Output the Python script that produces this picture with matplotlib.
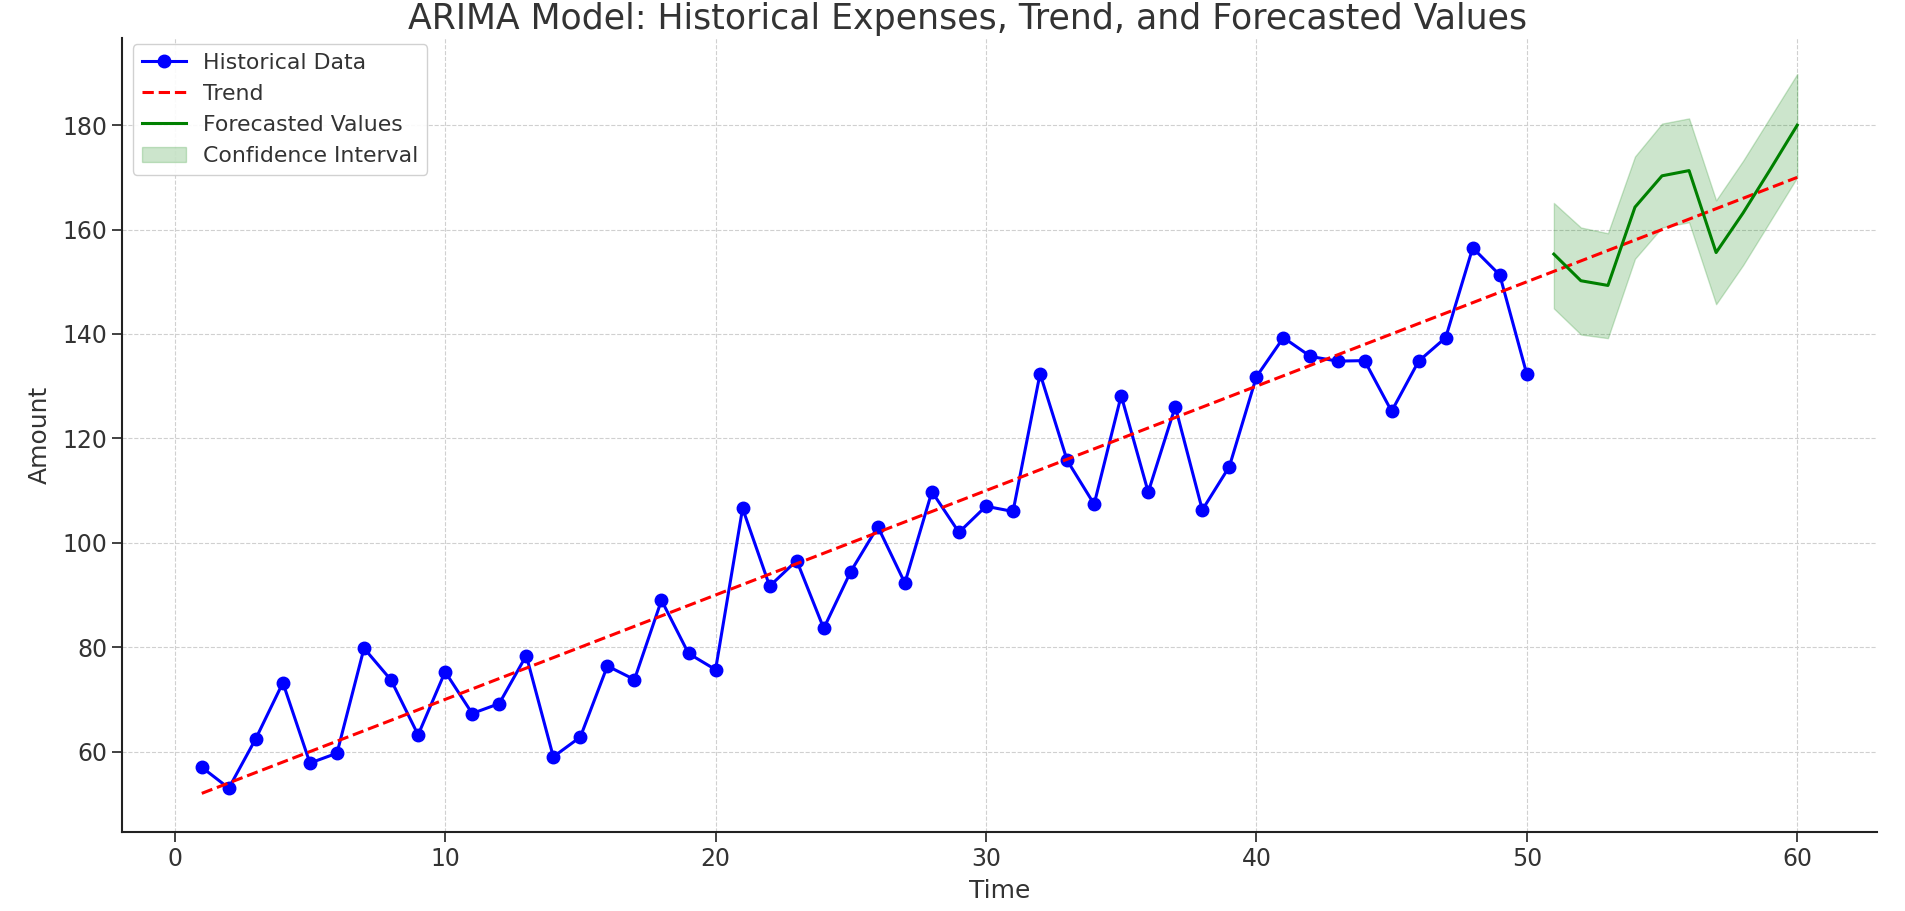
import matplotlib.pyplot as plt

# Historical expenses (time 1..50)
hist_time = list(range(1, 51))
hist_amount = [57.0, 53.0, 62.5, 73.2, 57.8, 59.7, 79.8, 73.7, 63.2, 75.3,
               67.3, 69.2, 78.4, 59.0, 62.8, 76.4, 73.8, 89.0, 78.8, 75.7,
               106.6, 91.7, 96.6, 83.6, 94.5, 103.1, 92.3, 109.8, 102.0, 107.0,
               106.0, 132.4, 115.8, 107.4, 128.2, 109.7, 126.1, 106.3, 114.6, 131.8,
               139.3, 135.7, 134.8, 134.9, 125.2, 134.8, 139.3, 156.5, 151.3, 132.3]

# Linear trend (start and end points)
trend_time = [1, 60]
trend_amount = [52.0, 170.0]

# Forecast (time 51..60)
fc_time = list(range(51, 61))
fc_amount = [155.3, 150.2, 149.3, 164.3, 170.3, 171.3, 155.6, 163.2, 171.5, 180.0]
fc_lower = [144.9, 139.9, 139.2, 154.4, 160.4, 161.4, 145.7, 153.2, 161.6, 170.0]
fc_upper = [165.1, 160.4, 159.3, 174.0, 180.3, 181.3, 165.6, 173.2, 181.5, 189.8]

text_color = '#333333'
plt.rcParams['text.color'] = text_color
plt.rcParams['axes.labelcolor'] = text_color
plt.rcParams['xtick.color'] = text_color
plt.rcParams['ytick.color'] = text_color

fig = plt.figure(figsize=(19.05, 9.11), dpi=100)
ax = fig.add_axes([122 / 1905, 1 - 832 / 911, (1877 - 122) / 1905, (832 - 38) / 911])

ax.plot(hist_time, hist_amount, marker='o', color='blue', linewidth=2.2,
        markersize=9, label='Historical Data')
ax.plot(trend_time, trend_amount, linestyle='--', color='red', linewidth=2.2,
        label='Trend')
ax.plot(fc_time, fc_amount, color='green', linewidth=2.2, label='Forecasted Values')
ax.fill_between(fc_time, fc_lower, fc_upper, color='green', alpha=0.2,
                label='Confidence Interval')

ax.set_xlim(-1.95, 62.95)
ax.set_ylim(44.6, 196.7)
ax.set_xticks([0, 10, 20, 30, 40, 50, 60])
ax.set_yticks([60, 80, 100, 120, 140, 160, 180])

ax.grid(True, linestyle='--', color='#d0d0d0', linewidth=0.8)
ax.set_axisbelow(True)
for side in ['top', 'right']:
    ax.spines[side].set_visible(False)
for side in ['left', 'bottom']:
    ax.spines[side].set_linewidth(1.5)
    ax.spines[side].set_color('#222222')
ax.tick_params(labelsize=17, length=7, width=1.3)

ax.set_xlabel('Time', fontsize=18, labelpad=6)
ax.set_ylabel('Amount', fontsize=18, labelpad=8)
fig.text(0.508, 0.979, 'ARIMA Model: Historical Expenses, Trend, and Forecasted Values',
         ha='center', va='center', fontsize=25)

ax.legend(loc='upper left', fontsize=15.8, framealpha=0.9,
          bbox_to_anchor=(0.0, 1.006))

fig.savefig('out.png', dpi=100)
